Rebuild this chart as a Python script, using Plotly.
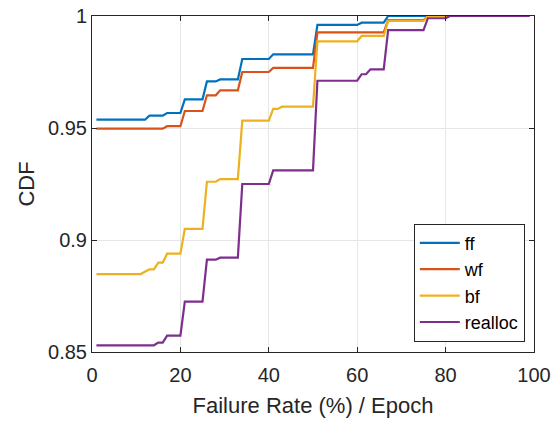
import plotly.graph_objects as go

# Failure rate (%) per epoch at which each CDF curve changes
ff_x = [1, 12, 13, 16, 17, 20, 21, 25, 26, 28, 29, 33, 34, 40, 41, 50, 51, 60, 61, 66, 67, 99]
ff_y = [0.9537, 0.9537, 0.9555, 0.9555, 0.9567, 0.9567, 0.9628, 0.9628, 0.9708, 0.9708, 0.9717,
        0.9717, 0.9808, 0.9808, 0.9829, 0.9829, 0.9960, 0.9960, 0.9970, 0.9970, 1.0, 1.0]

wf_x = [1, 16, 17, 20, 21, 25, 26, 28, 29, 33, 34, 40, 41, 50, 51, 66, 67, 75, 76, 99]
wf_y = [0.9497, 0.9497, 0.9508, 0.9508, 0.9576, 0.9576, 0.9646, 0.9646, 0.9668, 0.9668, 0.9750,
        0.9750, 0.9768, 0.9768, 0.9927, 0.9927, 0.9982, 0.9982, 1.0, 1.0]

bf_x = [1, 11, 13, 14, 15, 16, 17, 20, 21, 25, 26, 28, 29, 33, 34, 40, 41, 42, 43, 50, 51,
        60, 61, 66, 67, 75, 76, 99]
bf_y = [0.8848, 0.8848, 0.8869, 0.8869, 0.8899, 0.8899, 0.8939, 0.8939, 0.9050, 0.9050, 0.9260,
        0.9260, 0.9272, 0.9272, 0.9533, 0.9533, 0.9585, 0.9585, 0.9595, 0.9595, 0.9887,
        0.9887, 0.9911, 0.9911, 0.9978, 0.9978, 1.0, 1.0]

realloc_x = [1, 14, 15, 16, 17, 20, 21, 25, 26, 28, 29, 33, 34, 40, 41, 50, 51, 60, 61, 62, 63,
             66, 67, 75, 76, 80, 81, 99]
realloc_y = [0.8530, 0.8530, 0.8542, 0.8542, 0.8573, 0.8573, 0.8725, 0.8725, 0.8912, 0.8912,
             0.8921, 0.8921, 0.9250, 0.9250, 0.9311, 0.9311, 0.9711, 0.9711, 0.9740, 0.9740,
             0.9762, 0.9762, 0.9937, 0.9937, 0.9990, 0.9990, 1.0, 1.0]

series = [
    ("ff", ff_x, ff_y, "#0072BD"),
    ("wf", wf_x, wf_y, "#D95319"),
    ("bf", bf_x, bf_y, "#EDB120"),
    ("realloc", realloc_x, realloc_y, "#7E2F8E"),
]

x_ticks = [0, 20, 40, 60, 80, 100]
y_ticks = [0.85, 0.9, 0.95, 1]
y_tick_text = ["0.85", "0.9", "0.95", "1"]

FONT = "Liberation Sans, Arial, Helvetica, sans-serif"
INK = "#262626"

fig = go.Figure()
for name, xs, ys, color in series:
    fig.add_trace(go.Scatter(
        x=xs, y=ys, name=name, mode="lines",
        line=dict(color=color, width=2.2),
        cliponaxis=False,
    ))

axis_common = dict(
    showline=True, linecolor=INK, linewidth=1, mirror="ticks",
    ticks="inside", ticklen=5, tickcolor=INK, tickwidth=1,
    showgrid=True, gridcolor="#e6e6e6", gridwidth=1,
    zeroline=False, automargin=False,
    tickfont=dict(family=FONT, size=20, color=INK),
    title_font=dict(family=FONT, size=22, color=INK),
)

fig.update_xaxes(
    range=[0, 100], tickvals=x_ticks,
    title_text="Failure Rate (%) / Epoch", title_standoff=12,
    ticklabelstandoff=5,
    **axis_common,
)
fig.update_yaxes(
    range=[0.85, 1], tickvals=y_ticks, ticktext=y_tick_text,
    title_text="CDF", title_standoff=7,
    **axis_common,
)

fig.update_layout(
    width=558, height=422,
    margin=dict(l=92, r=24, t=16, b=70),
    paper_bgcolor="white", plot_bgcolor="white",
    font=dict(family=FONT, color=INK),
    legend=dict(
        x=0.728, y=0.031, xanchor="left", yanchor="bottom",
        bgcolor="white", bordercolor=INK, borderwidth=1,
        font=dict(family=FONT, size=18, color="black"),
        tracegroupgap=0, itemwidth=40,
    ),
    showlegend=True,
)

fig.write_html("out.html")
